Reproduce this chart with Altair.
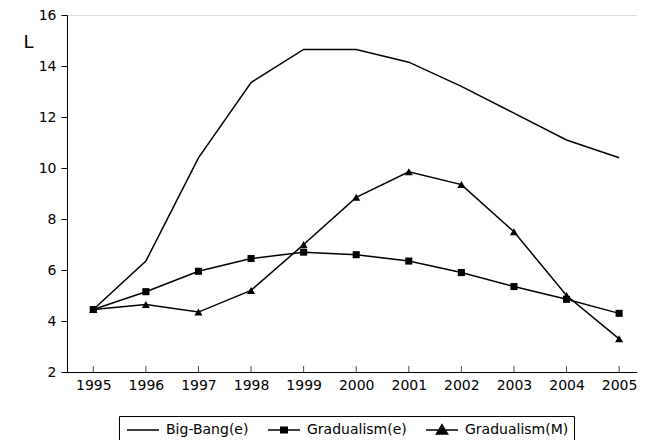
import altair as alt
import pandas as pd

years = list(range(1995, 2006))
big_bang = [4.45, 6.35, 10.4, 13.35, 14.65, 14.65, 14.15, 13.2, 12.15, 11.1, 10.4]
grad_e = [4.45, 5.15, 5.95, 6.45, 6.7, 6.6, 6.35, 5.9, 5.35, 4.85, 4.3]
grad_m = [4.45, 4.65, 4.35, 5.2, 7.0, 8.85, 9.85, 9.35, 7.5, 5.0, 3.3]
series_names = ["Big-Bang(e)", "Gradualism(e)", "Gradualism(M)"]
y_ticks = [2, 4, 6, 8, 10, 12, 14, 16]

rows = []
for name, vals in zip(series_names, [big_bang, grad_e, grad_m]):
    for yr, v in zip(years, vals):
        rows.append({"year": yr, "value": v, "series": name})
df = pd.DataFrame(rows)
ticks_df = pd.DataFrame({"year": years, "base": [2] * len(years)})

FONT = "DejaVu Sans"

x_enc = alt.X("year:Q", scale=alt.Scale(domain=[1994.5, 2005.34], nice=False, zero=False),
              axis=alt.Axis(values=years, format="d", title=None, tickSize=0,
                            labelPadding=6, labelFontSize=14, labelFont=FONT,
                            labelColor="black", domainColor="black", grid=False,
                            labelFlush=False))
y_enc = alt.Y("value:Q", scale=alt.Scale(domain=[2, 16], nice=False, zero=False),
              axis=alt.Axis(values=y_ticks, title="L", titleAngle=0, titleX=-44, titleY=32,
                            titleAlign="left", titleBaseline="alphabetic", titleFontSize=18,
                            titleFontWeight="normal", titleFont=FONT, titleColor="black",
                            tickSize=6, tickColor="black", labelPadding=5, labelFontSize=14,
                            labelFont=FONT, labelColor="black", domainColor="black", grid=False))

lines = alt.Chart(df).mark_line(color="black", strokeWidth=1.5).encode(
    x=x_enc, y=y_enc, detail="series:N"
)

pts = alt.Chart(df).transform_filter(alt.datum.series != "Big-Bang(e)").mark_point(
    filled=True, color="black", opacity=1
).encode(
    x="year:Q", y="value:Q",
    shape=alt.Shape("series:N", scale=alt.Scale(domain=["Gradualism(e)", "Gradualism(M)"],
                                                range=["square", "triangle-up"]), legend=None),
    size=alt.Size("series:N", scale=alt.Scale(domain=["Gradualism(e)", "Gradualism(M)"],
                                              range=[50, 65]), legend=None),
)

# legend glyphs: a line with a solid marker (the marker "filled" by stroked rows)
legend_paths = [
    "M-2,0H2",
    "M-2,0H2M-0.5,-0.34H0.5M-0.5,-0.17H0.5M-0.5,0.17H0.5M-0.5,0.34H0.5",
    "M-2,0H2M0,-0.65L0.7,0.5H-0.7ZM-0.1,-0.4H0.1M-0.22,-0.2H0.22M-0.42,0.16H0.42M-0.55,0.33H0.55",
]

leg = alt.Chart(df).mark_point(filled=False, color="black", opacity=0, strokeWidth=1.5).encode(
    x="year:Q", y="value:Q",
    shape=alt.Shape("series:N", scale=alt.Scale(domain=series_names, range=legend_paths),
                    legend=alt.Legend(title=None, orient="none", legendX=52, legendY=401,
                                      direction="horizontal", columns=3,
                                      strokeColor="black", padding=5, symbolSize=256,
                                      symbolOffset=10, symbolOpacity=1,
                                      symbolStrokeColor="black",
                                      symbolStrokeWidth=1.5, labelOffset=14,
                                      labelFontSize=14, labelFont=FONT, labelColor="black",
                                      columnPadding=16)),
)

xticks = alt.Chart(ticks_df).mark_tick(orient="vertical", color="black", size=6,
                                        thickness=1, yOffset=-3).encode(
    x="year:Q", y="base:Q"
)

chart = alt.layer(lines, pts, xticks, leg).resolve_scale(shape="independent", size="independent").properties(
    width=570, height=357,
    autosize=alt.AutoSizeParams(type="none"),
    padding={"left": 59, "top": 7, "right": 0, "bottom": 68},
).configure_view(stroke="black", strokeWidth=1.5).configure(background="white")

chart.save("out.html", embed_options={"renderer": "svg", "actions": False})
